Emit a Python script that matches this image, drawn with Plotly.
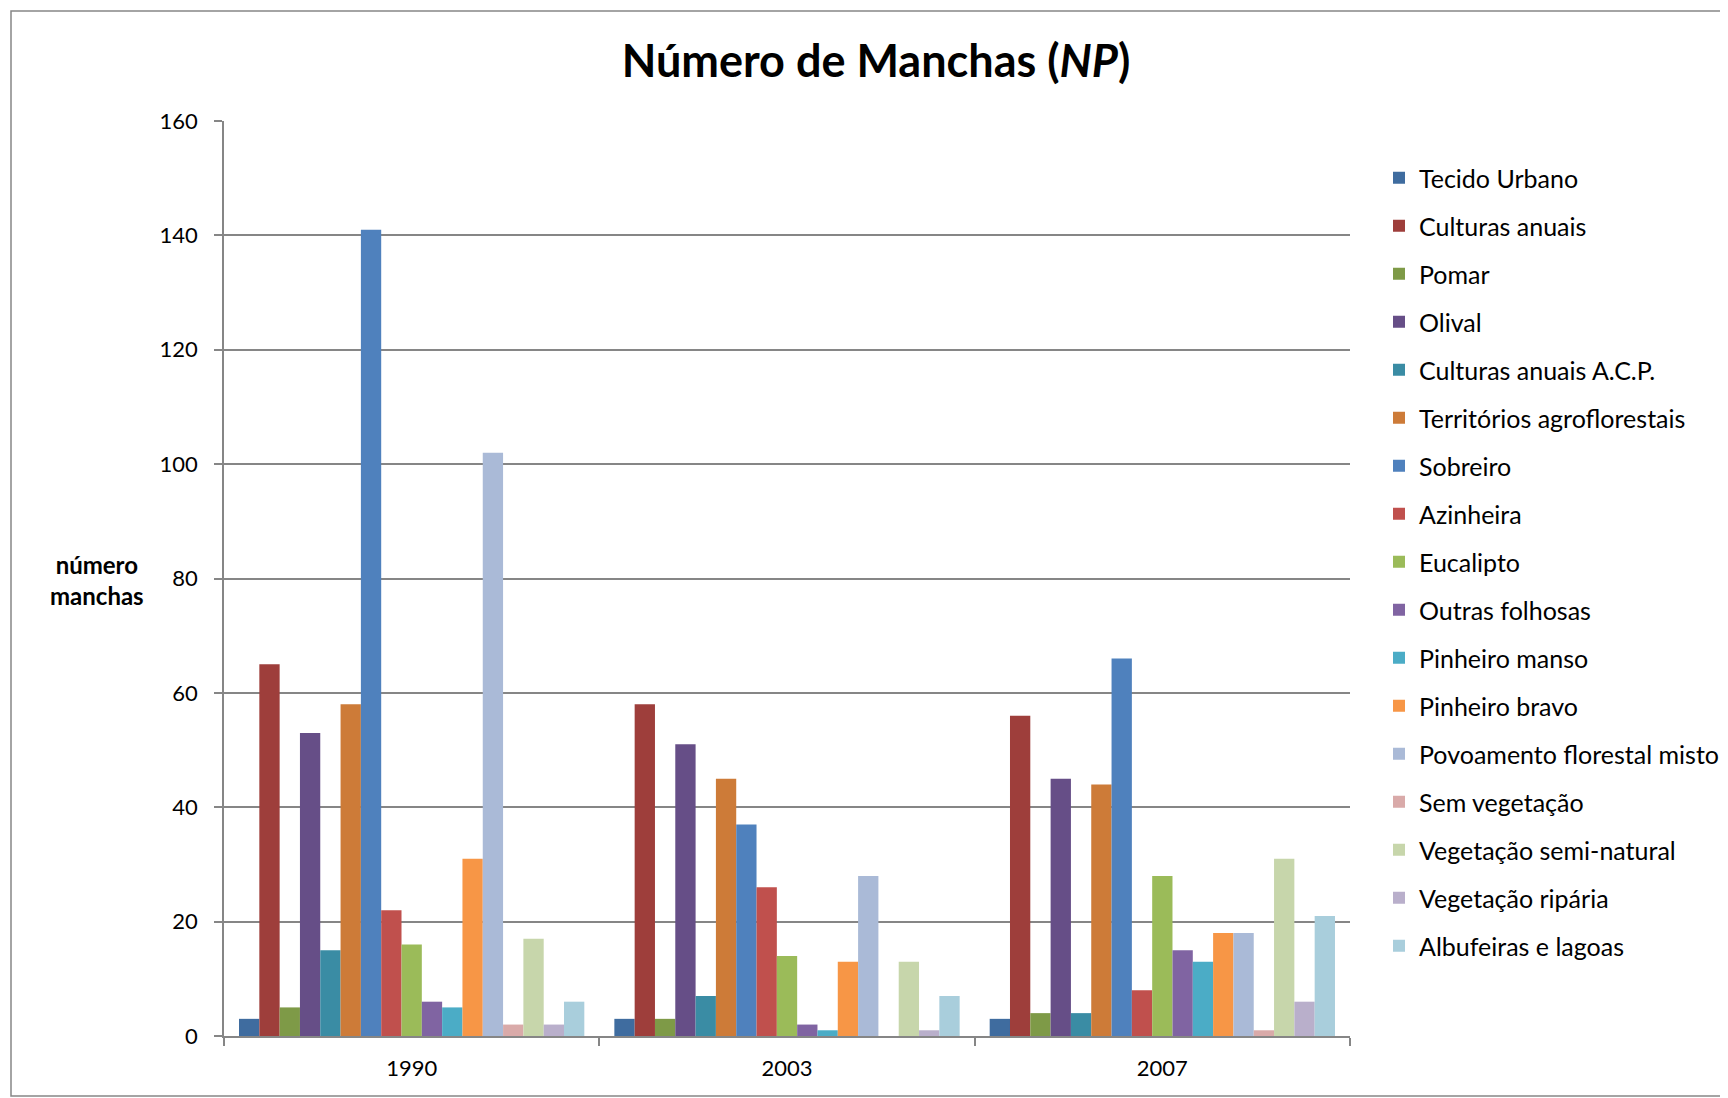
import plotly.graph_objects as go

# categories and series (número de manchas por classe de uso do solo)
years = ["1990", "2003", "2007"]

classes = [
    "Tecido Urbano", "Culturas anuais", "Pomar", "Olival",
    "Culturas anuais A.C.P.", "Territórios agroflorestais", "Sobreiro",
    "Azinheira", "Eucalipto", "Outras folhosas", "Pinheiro manso",
    "Pinheiro bravo", "Povoamento florestal misto", "Sem vegetação",
    "Vegetação semi-natural", "Vegetação ripária", "Albufeiras e lagoas",
]

np_1990 = [3, 65, 5, 53, 15, 58, 141, 22, 16, 6, 5, 31, 102, 2, 17, 2, 6]
np_2003 = [3, 58, 3, 51, 7, 45, 37, 26, 14, 2, 1, 13, 28, 0, 13, 1, 7]
np_2007 = [3, 56, 4, 45, 4, 44, 66, 8, 28, 15, 13, 18, 18, 1, 31, 6, 21]

colors = [
    "#3F6C9F", "#9E3E3B", "#7E9A47", "#664E87", "#3A8CA4", "#CD7B38",
    "#4F81BD", "#C0504D", "#9BBB59", "#8064A2", "#4BACC6", "#F79646",
    "#AABAD7", "#D9AAA9", "#C7D6AB", "#B9AFCB", "#A9CEDC",
]

FONT = "Lato"
GRID = "#868686"

fig = go.Figure()
for i, name in enumerate(classes):
    fig.add_trace(go.Bar(
        x=years,
        y=[np_1990[i], np_2003[i], np_2007[i]],
        name=name,
        legendgroup=name,
        marker=dict(color=colors[i], line=dict(width=0)),
    ))

# figure pixels (page has an 8px body margin)
W, H = 1720, 1090
L, R, T, B = 216, 1342, 113, 1028
pw, ph = R - L, B - T

def px_x(v):
    return (v - L) / pw

def px_y(v):
    return (B - v) / ph

# outer chart border
fig.add_shape(type="rect", xref="paper", yref="paper",
              x0=px_x(3), x1=px_x(1718), y0=px_y(1088), y1=px_y(3),
              line=dict(color=GRID, width=1.5), layer="below")

fig.add_annotation(text="<b>número<br>manchas</b>", xref="paper", yref="paper",
                   x=px_x(89), y=px_y(572), xanchor="center", yanchor="middle",
                   showarrow=False, align="center",
                   font=dict(family=FONT, size=24, color="black"))

fig.update_layout(
    width=W, height=H,
    margin=dict(l=L, r=W - R, t=T, b=H - B, autoexpand=False),
    paper_bgcolor="white", plot_bgcolor="white",
    barmode="group", bargap=0.08, bargroupgap=0,
    title=dict(text="<b>Número de Manchas (<i>NP</i>)</b>", x=868 / W, xanchor="center",
               y=1 - 53 / H, yanchor="middle",
               font=dict(family=FONT, size=45, color="black")),
    font=dict(family=FONT, color="black"),
    legend=dict(x=px_x(1371), xanchor="left", y=px_y(147), yanchor="top",
                font=dict(family=FONT, size=25, color="black"),
                tracegroupgap=12.5, traceorder="grouped",
                bgcolor="rgba(0,0,0,0)"),
)

fig.update_yaxes(range=[0, 160], dtick=20, showgrid=True, gridcolor=GRID, gridwidth=1.5,
                 showline=True, linecolor=GRID, linewidth=1.5,
                 ticks="outside", ticklen=8, tickcolor=GRID, tickwidth=1.5,
                 ticklabelstandoff=12, zeroline=False,
                 tickfont=dict(family=FONT, size=22, color="black"))
fig.update_xaxes(type="category", showgrid=False, showline=True, linecolor=GRID, linewidth=1.5,
                 ticks="outside", tickson="boundaries", ticklen=8, tickcolor=GRID, tickwidth=1.5,
                 ticklabelstandoff=12,
                 tickfont=dict(family=FONT, size=22, color="black"))

fig.write_html("out.html")
